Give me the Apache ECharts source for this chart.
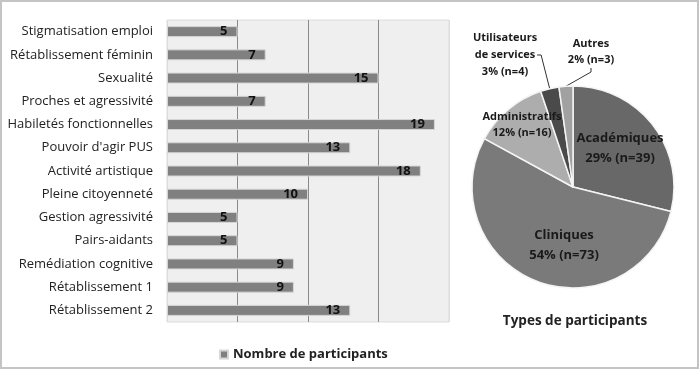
<!DOCTYPE html>
<html><head><meta charset="utf-8">
<script src="https://cdn.jsdelivr.net/npm/echarts@6/dist/echarts.min.js"></script>
<style>html,body{margin:0;padding:0;background:#fff}#c{width:700px;height:371px}</style>
</head><body><div id="c"></div>
<script>
const categories = ["Stigmatisation emploi","Rétablissement féminin","Sexualité","Proches et agressivité","Habiletés fonctionnelles","Pouvoir d'agir PUS","Activité artistique","Pleine citoyenneté","Gestion agressivité","Pairs-aidants","Remédiation cognitive","Rétablissement 1","Rétablissement 2"];
const participants = [5,7,15,7,19,13,18,10,5,5,9,9,13];
const xTicks = [0,5,10,15,20];
const pieNames = ["Académiques","Cliniques","Administratifs","Utilisateurs\nde services","Autres"];
const pieValues = [39,73,16,4,3];
const piePercents = ["29%","54%","12%","3%","2%"];

const FONT = "Open Sans";
const pieColors = ["#686868","#7a7a7a","#adadad","#4a4a4a","#a1a1a1"];
// label styling per slice (font size, line height, placement)
const pieLabelStyle = [
  {fontSize:13, lineHeight:20, position:'inside', x:620, y:148},
  {fontSize:13, lineHeight:20, position:'inside', x:564, y:245},
  {fontSize:11, lineHeight:16, position:'inside', x:522, y:125},
  {fontSize:11, lineHeight:17, position:'outside', x:505, y:55},
  {fontSize:11, lineHeight:16, position:'outside', x:591, y:52}
];

const chart = echarts.init(document.getElementById('c'), null, {renderer:'canvas'});
chart.setOption({
  animation:false,
  textStyle:{fontFamily:FONT},
  graphic:[{type:'rect',shape:{x:1,y:1,width:697,height:367},style:{fill:'none',stroke:'#c4c4c4',lineWidth:2},silent:true}],
  title:{text:'Types de participants',left:570,top:309,textAlign:'center',textStyle:{fontFamily:FONT,fontSize:13.5,fontWeight:'bold',color:'#222'}},
  legend:{data:['Nombre de participants'],left:214,top:343,itemWidth:8,itemHeight:8,icon:'rect',itemGap:4,
    textStyle:{fontFamily:FONT,fontSize:13,fontWeight:'bold',color:'#222'}},
  grid:{left:167,top:20,width:282,height:302,containLabel:false,backgroundColor:'#efefef',show:true,borderColor:'#dcdcdc',borderWidth:1},
  xAxis:{type:'value',min:xTicks[0],max:xTicks[xTicks.length-1],interval:5,axisLabel:{show:false},axisTick:{show:false},axisLine:{show:false},
    splitLine:{lineStyle:{color:['#dcdcdc','#8a8a8a','#8a8a8a','#8a8a8a','#dcdcdc'],width:1}}},
  yAxis:{type:'category',data:categories,inverse:true,axisTick:{show:false},axisLine:{show:false},
    axisLabel:{fontFamily:FONT,fontSize:13,color:'#222',margin:14}},
  series:[{
    name:'Nombre de participants',type:'bar',data:participants,barWidth:11,
    itemStyle:{color:'#808080',borderColor:'#d6d6d6',borderWidth:1},
    label:{show:true,position:'insideRight',distance:10,fontFamily:FONT,fontSize:13,fontWeight:'bold',color:'#111'}
  },{
    name:'Types',type:'pie',center:[573,187],radius:[0,101],startAngle:90,clockwise:true,
    data:pieNames.map((n,i)=>({name:n,value:pieValues[i],itemStyle:{color:pieColors[i]},
      label:{position:pieLabelStyle[i].position,fontSize:pieLabelStyle[i].fontSize,lineHeight:pieLabelStyle[i].lineHeight},
      labelLine:{show:pieLabelStyle[i].position==='outside',length:8,length2:4,lineStyle:{color:'#333',width:1}}})),
    itemStyle:{borderColor:'#f4f4f4',borderWidth:1.5},
    label:{fontFamily:FONT,fontWeight:'bold',color:'#1a1a1a',align:'center',
      formatter:p=>p.name+'\n'+piePercents[p.dataIndex]+' (n='+p.value+')'},
    labelLayout:p=>{const s=pieLabelStyle[p.dataIndex];return {x:s.x,y:s.y,align:'center',verticalAlign:'middle'};}
  }]
});
</script></body></html>
